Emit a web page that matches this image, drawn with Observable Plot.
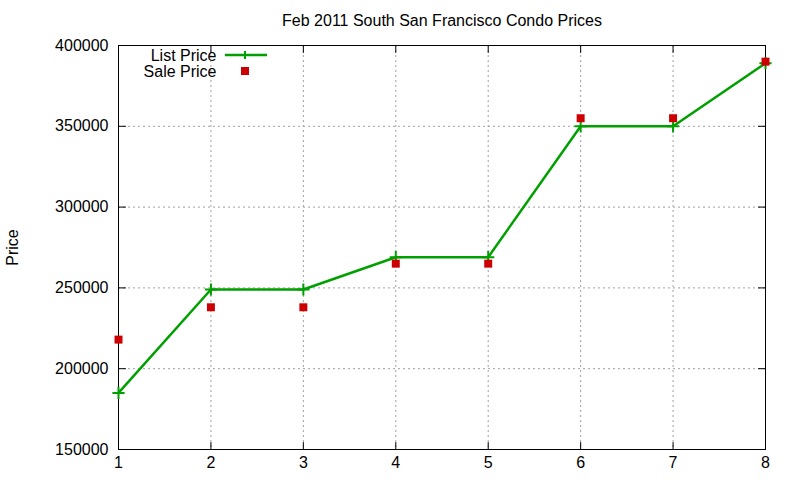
<!DOCTYPE html>
<html>
<head>
<meta charset="utf-8">
<script src="https://cdn.jsdelivr.net/npm/d3@7"></script>
<script src="https://cdn.jsdelivr.net/npm/@observablehq/plot@0.6"></script>
<style>
  html, body { margin: 0; padding: 0; background: #fff; }
  #chart svg { display: block; }
</style>
</head>
<body>
<div id="chart"></div>
<script>
const titleText = "Feb 2011 South San Francisco Condo Prices";
const yLabel = "Price";
const listLabel = "List Price";
const saleLabel = "Sale Price";
const xValues = [1, 2, 3, 4, 5, 6, 7, 8];
const listPrice = [185000, 249000, 249000, 269000, 269000, 350000, 350000, 389000];
const salePrice = [218000, 238000, 238000, 265000, 265000, 355000, 355000, 390000];
const xTicks = [1, 2, 3, 4, 5, 6, 7, 8];
const yTicks = [150000, 200000, 250000, 300000, 350000, 400000];

const listData = xValues.map((x, i) => ({x, y: listPrice[i]}));
const saleData = xValues.map((x, i) => ({x, y: salePrice[i]}));

const green = "#00a000";
const red = "#cc0000";
const font = "'Liberation Sans', Arial, sans-serif";
const fs = 16;
const tickShape = {draw(c, l) { c.moveTo(0, 0); c.lineTo(0, -l); }};

const chart = Plot.plot({
  width: 800,
  height: 480,
  marginLeft: 118,
  marginRight: 35,
  marginTop: 45,
  marginBottom: 31,
  style: {fontFamily: font, fontSize: fs + "px", color: "#000", background: "#fff"},
  x: {domain: [1, 8], ticks: xTicks},
  y: {domain: [150000, 400000], ticks: yTicks},
  marks: [
    Plot.gridX(xTicks.slice(1, -1), {stroke: "#a0a0a0", strokeOpacity: 1, strokeDasharray: "2,3"}),
    Plot.gridY(yTicks.slice(1, -1), {stroke: "#a0a0a0", strokeOpacity: 1, strokeDasharray: "2,3"}),
    Plot.frame({stroke: "#000", strokeWidth: 1}),
    // inward ticks (gnuplot style), mirrored
    Plot.vector(yTicks, {x: xTicks[0], y: d => d, length: 7, rotate: 90, anchor: "start", stroke: "#000", strokeWidth: 1, shape: tickShape}),
    Plot.vector(yTicks, {x: xTicks[xTicks.length - 1], y: d => d, length: 7, rotate: -90, anchor: "start", stroke: "#000", strokeWidth: 1, shape: tickShape}),
    Plot.vector(xTicks, {x: d => d, y: yTicks[0], length: 7, rotate: 0, anchor: "start", stroke: "#000", strokeWidth: 1, shape: tickShape}),
    Plot.vector(xTicks, {x: d => d, y: yTicks[yTicks.length - 1], length: 7, rotate: 180, anchor: "start", stroke: "#000", strokeWidth: 1, shape: tickShape}),
    Plot.axisX({ticks: xTicks, tickSize: 0, tickPadding: 7, tickFormat: d => String(d), fontSize: fs, label: null}),
    Plot.axisY({ticks: yTicks, tickSize: 0, tickPadding: 10, tickFormat: d => String(d), fontSize: fs, label: null}),
    // data
    Plot.line(listData, {x: "x", y: "y", stroke: green, strokeWidth: 2.5}),
    Plot.dot(listData, {x: "x", y: "y", symbol: "plus", r: 4, stroke: green, strokeWidth: 2}),
    Plot.dot(saleData, {x: "x", y: "y", symbol: "square", r: 4.5, fill: red, stroke: null}),
    // title and y label
    Plot.text([titleText], {frameAnchor: "top", lineAnchor: "middle", dy: -25, fontSize: fs, text: d => d}),
    Plot.text([yLabel], {frameAnchor: "left", textAnchor: "middle", lineAnchor: "middle", dx: -106, rotate: -90, fontSize: fs, text: d => d}),
    // legend
    Plot.text([listLabel], {frameAnchor: "top-left", lineAnchor: "middle", dx: 98, dy: 10, textAnchor: "end", fontSize: fs, text: d => d}),
    Plot.text([saleLabel], {frameAnchor: "top-left", lineAnchor: "middle", dx: 98, dy: 26, textAnchor: "end", fontSize: fs, text: d => d}),
    () => {
      const ns = "http://www.w3.org/2000/svg";
      const g = document.createElementNS(ns, "g");
      const line = document.createElementNS(ns, "line");
      line.setAttribute("x1", 225); line.setAttribute("x2", 267);
      line.setAttribute("y1", 55); line.setAttribute("y2", 55);
      line.setAttribute("stroke", green); line.setAttribute("stroke-width", 2.5);
      g.appendChild(line);
      const p = document.createElementNS(ns, "path");
      p.setAttribute("d", "M241,55h8M245,51v8");
      p.setAttribute("stroke", green); p.setAttribute("stroke-width", 2);
      g.appendChild(p);
      const r = document.createElementNS(ns, "rect");
      r.setAttribute("x", 241); r.setAttribute("y", 67);
      r.setAttribute("width", 8); r.setAttribute("height", 8);
      r.setAttribute("fill", red);
      g.appendChild(r);
      return g;
    }
  ]
});
document.getElementById("chart").appendChild(chart);
</script>
</body>
</html>
